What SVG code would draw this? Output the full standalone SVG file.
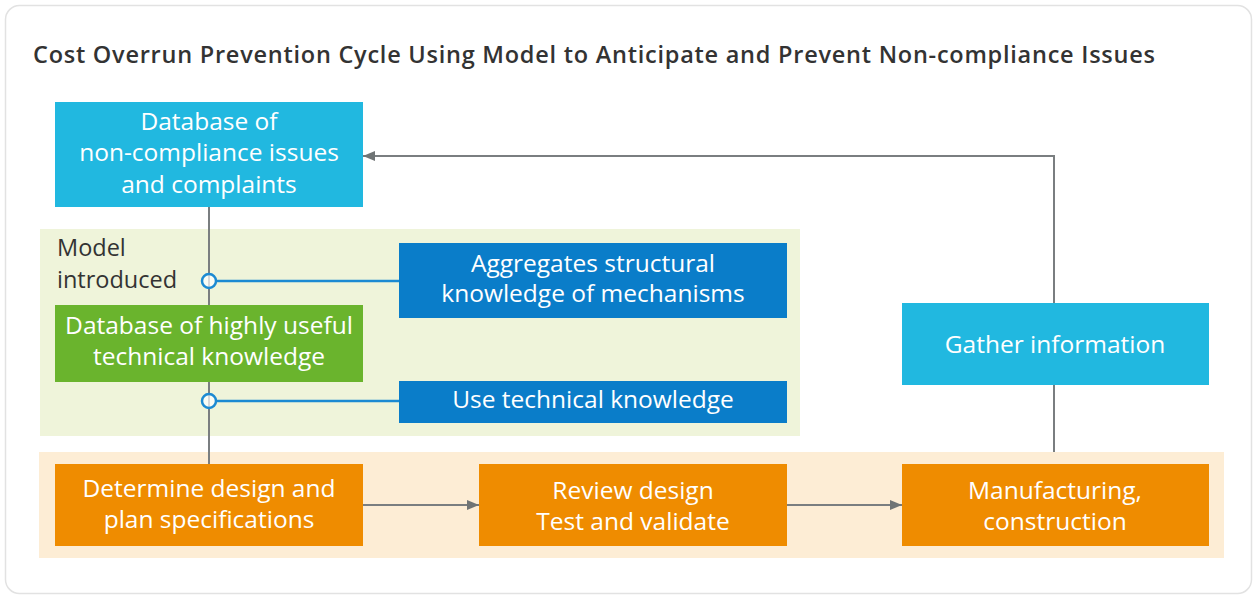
<svg xmlns="http://www.w3.org/2000/svg" width="1257" height="596" viewBox="0 0 1257 596">
<style>
  .lbl { font-family: "Open Sans", "Noto Sans", "DejaVu Sans", sans-serif; font-size: 24.5px; fill: #ffffff; text-anchor: middle; }
  .dark { font-family: "Open Sans", "Noto Sans", "DejaVu Sans", sans-serif; font-size: 23.5px; fill: #333333; }
  .title { font-family: "Open Sans", "Noto Sans", "DejaVu Sans", sans-serif; font-size: 23.5px; font-weight: 600; fill: #333333; }
  .cyan { fill: #21b8e0; }
  .blue { fill: #0a7dc9; }
  .green { fill: #6ab42d; }
  .orange { fill: #ef8c00; }
  .gline { fill: none; stroke: #7a7e80; stroke-width: 2; }
  .bline { fill: none; stroke: #1c8ad2; stroke-width: 2.5; }
  .knot { fill: #ffffff; fill-opacity: 0.7; stroke: #1c8ad2; stroke-width: 2.5; }
</style>
<defs>
  <marker id="arr" viewBox="0 0 12 10" refX="12" refY="5" markerWidth="12" markerHeight="10" markerUnits="userSpaceOnUse" orient="auto">
    <path d="M0,0 L12,5 L0,10 Z" fill="#6f7475"/>
  </marker>
</defs>
<rect x="0" y="0" width="1257" height="596" fill="#ffffff"/>
<rect x="5.5" y="5.5" width="1246" height="588" rx="14" ry="14" fill="#ffffff" stroke="#e2e2e2" stroke-width="1.5"/>
<text class="title" x="33" y="63" textLength="1122">Cost Overrun Prevention Cycle Using Model to Anticipate and Prevent Non-compliance Issues</text>

<g id="zone-model">
  <rect x="40" y="229" width="760" height="207" fill="#eff4da"/>
  <text class="dark" x="57" y="256">Model<tspan x="57" y="288">introduced</tspan></text>
</g>
<g id="zone-process">
  <rect x="39" y="452" width="1185" height="106" fill="#fdedd5"/>
</g>

<g id="connectors">
  <line class="gline" x1="209" y1="206" x2="209" y2="464"/>
  <line class="gline" x1="1054" y1="385" x2="1054" y2="452"/>
  <polyline class="gline" points="1054,303 1054,156 363,156" marker-end="url(#arr)"/>
  <line class="gline" x1="363" y1="505" x2="479" y2="505" marker-end="url(#arr)"/>
  <line class="gline" x1="787" y1="505" x2="902" y2="505" marker-end="url(#arr)"/>
  <line class="bline" x1="216" y1="281" x2="400" y2="281"/>
  <line class="bline" x1="216" y1="401" x2="400" y2="401"/>
  <circle class="knot" cx="209" cy="281" r="7"/>
  <circle class="knot" cx="209" cy="401" r="7"/>
</g>

<g id="node-db-noncompliance">
  <rect class="cyan" x="55" y="102" width="308" height="105"/>
  <text class="lbl" x="209" y="130">Database of<tspan x="209" y="161">non-compliance issues</tspan><tspan x="209" y="193">and complaints</tspan></text>
</g>
<g id="node-aggregates">
  <rect class="blue" x="399" y="243" width="388" height="75"/>
  <text class="lbl" x="593" y="272">Aggregates structural<tspan x="593" y="302">knowledge of mechanisms</tspan></text>
</g>
<g id="node-db-technical">
  <rect class="green" x="55" y="305" width="308" height="77"/>
  <text class="lbl" x="209" y="334">Database of highly useful<tspan x="209" y="365">technical knowledge</tspan></text>
</g>
<g id="node-use-technical">
  <rect class="blue" x="399" y="381" width="388" height="42"/>
  <text class="lbl" x="593" y="408">Use technical knowledge</text>
</g>
<g id="node-gather">
  <rect class="cyan" x="902" y="303" width="307" height="82"/>
  <text class="lbl" x="1055" y="353">Gather information</text>
</g>
<g id="node-determine">
  <rect class="orange" x="55" y="464" width="308" height="82"/>
  <text class="lbl" x="209" y="497">Determine design and<tspan x="209" y="528">plan specifications</tspan></text>
</g>
<g id="node-review">
  <rect class="orange" x="479" y="464" width="308" height="82"/>
  <text class="lbl" x="633" y="499">Review design<tspan x="633" y="530">Test and validate</tspan></text>
</g>
<g id="node-manufacturing">
  <rect class="orange" x="902" y="464" width="307" height="82"/>
  <text class="lbl" x="1055" y="499">Manufacturing,<tspan x="1055" y="530">construction</tspan></text>
</g>
</svg>
